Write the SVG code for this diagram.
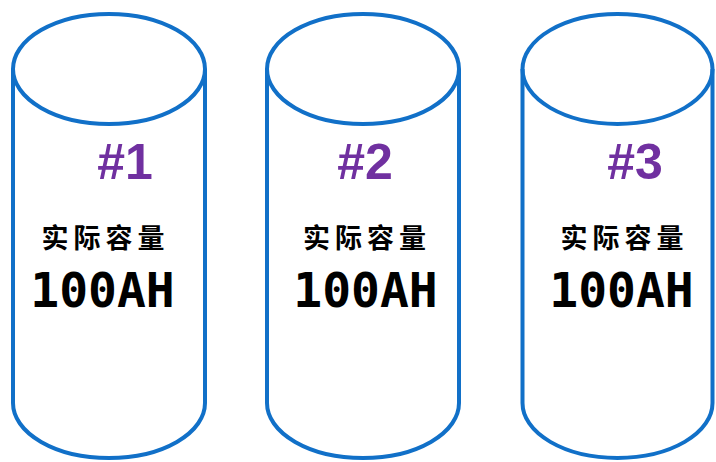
<svg xmlns="http://www.w3.org/2000/svg" width="716" height="462" viewBox="0 0 716 462">
<style>
.cyl{fill:none;stroke:#1170C8;stroke-width:4}
.num{font-family:"Liberation Sans","Noto Sans",sans-serif;font-weight:bold;font-size:50px;fill:#7030A0;text-anchor:middle}
.lbl{font-family:"Noto Sans CJK SC",sans-serif;font-weight:bold;font-size:27px;fill:#000;text-anchor:middle;letter-spacing:5px}
.cap{font-family:"DejaVu Sans Mono","Liberation Mono",monospace;font-weight:bold;font-size:48px;fill:#000;text-anchor:middle}
</style>
<rect width="716" height="462" fill="#fff"/>
<g id="cyl1">
<path class="cyl" d="M13,69 L13,403 A96,55 0 0 0 205,403 L205,69"/>
<ellipse class="cyl" cx="109" cy="69" rx="96" ry="55"/>
<text class="num" x="125" y="179">#1</text>
<text class="lbl" x="105.5" y="248">实际容量</text>
<text class="cap" x="102.5" y="307">100AH</text>
</g>
<g id="cyl2">
<path class="cyl" d="M267,69 L267,403 A96,55 0 0 0 459,403 L459,69"/>
<ellipse class="cyl" cx="363" cy="69" rx="96" ry="55"/>
<text class="num" x="365" y="179">#2</text>
<text class="lbl" x="367" y="248">实际容量</text>
<text class="cap" x="365.5" y="307">100AH</text>
</g>
<g id="cyl3">
<path class="cyl" d="M522.5,69 L522.5,403 A95,55 0 0 0 712.5,403 L712.5,69"/>
<ellipse class="cyl" cx="617.5" cy="69" rx="95" ry="55"/>
<text class="num" x="635" y="179">#3</text>
<text class="lbl" x="624.5" y="248">实际容量</text>
<text class="cap" x="621.5" y="307">100AH</text>
</g>
<g id="connectors"></g>
</svg>
